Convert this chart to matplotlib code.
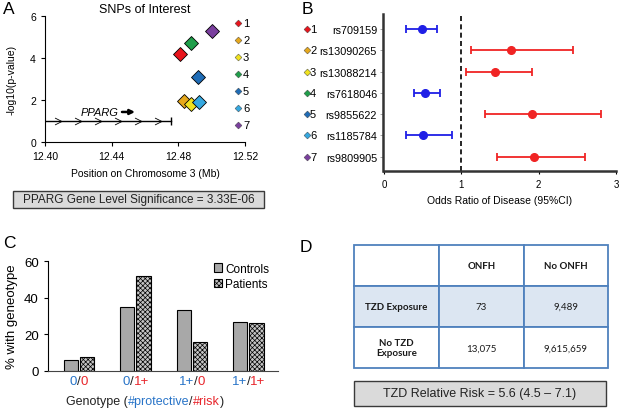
import matplotlib
matplotlib.use('Agg')
import matplotlib.pyplot as plt
from matplotlib.path import Path
from matplotlib.patches import Rectangle
from matplotlib.offsetbox import TextArea, HPacker, AnnotationBbox

plt.rcParams['font.family'] = ['Liberation Sans', 'DejaVu Sans']

W, H = 620, 410

# panel A: SNPs of interest
snp_num = ['1', '2', '3', '4', '5', '6', '7']
snp_colors = ['#e8141c', '#e6a81c', '#f0e21e', '#1f9e4a', '#1f6cb6', '#35a8e0', '#7a3f9e']
snp_pos = [12.4808, 12.4832, 12.4874, 12.4874, 12.4916, 12.4926, 12.5004]
snp_logp = [4.19, 1.94, 1.81, 4.70, 3.11, 1.89, 5.30]
gene_start, gene_end, gene_y = 12.40, 12.4758, 1.02
chevrons = [12.408, 12.420, 12.432, 12.444, 12.456, 12.468]

# panel B: odds ratios
snp_ids = ['rs709159', 'rs13090265', 'rs13088214', 'rs7618046', 'rs9855622', 'rs1185784', 'rs9809905']
or_val = [0.49, 1.64, 1.44, 0.53, 1.92, 0.50, 1.94]
ci_low = [0.29, 1.12, 1.06, 0.39, 1.31, 0.28, 1.46]
ci_high = [0.69, 2.44, 1.91, 0.72, 2.81, 0.88, 2.60]

# panel C: genotype frequencies
geno_prot = ['0', '0', '1+', '1+']
geno_risk = ['0', '1+', '0', '1+']
controls = [5.9, 35.1, 33.3, 26.5]
patients = [7.3, 51.8, 15.9, 26.0]

# panel D: TZD table
table_cols = ['', 'ONFH', 'No ONFH']
table_rows = [['TZD Exposure', '73', '9,489'],
              ['No TZD\nExposure', '13,075', '9,615,659']]

BLUE_T = '#2874c8'
RED_T = '#e8262c'


def box(l, t, r, b):
    return [l / W, 1 - b / H, (r - l) / W, (b - t) / H]


def gray_box(l, t, r, b, text, size):
    fig.patches.append(Rectangle((l / W, 1 - b / H), (r - l) / W, (b - t) / H,
                                 transform=fig.transFigure, facecolor='#dadada',
                                 edgecolor='#3a3a3a', lw=1.0))
    fig.text((l + r) / 2 / W, 1 - (t + b) / 2 / H, text, ha='center', va='center',
             fontsize=size, color='#222222')


fig = plt.figure(figsize=(6.2, 4.1), dpi=100)

# ---------- A ----------
ax = fig.add_axes(box(45, 17, 245, 143))
ax.set_xlim(12.40, 12.52)
ax.set_ylim(0, 6)
for s in ['top', 'right']:
    ax.spines[s].set_visible(False)
ax.set_xticks([12.40, 12.44, 12.48, 12.52])
ax.set_xticklabels(['12.40', '12.44', '12.48', '12.52'])
ax.set_yticks([0, 2, 4, 6])
ax.tick_params(labelsize=7.5, length=3)
ax.set_title('SNPs of Interest', fontsize=9, pad=3)
ax.set_ylabel('-log10(p-value)', fontsize=7.5)
ax.yaxis.set_label_coords(-0.14, 0.5)
ax.set_xlabel('Position on Chromosome 3 (Mb)', fontsize=7.5)
ax.xaxis.set_label_coords(0.5, -0.21)

ax.plot([gene_start, gene_end], [gene_y, gene_y], color='black', lw=1)
ax.plot([gene_end], [gene_y], marker='|', color='black', ms=6, mew=1)
chev = Path([(-0.5, 0.5), (0.5, 0.0), (-0.5, -0.5)], [Path.MOVETO, Path.LINETO, Path.LINETO])
ax.plot(chevrons, [gene_y] * len(chevrons), ls='none', marker=chev, ms=5,
        mfc='none', mec='black', mew=0.6)
ax.text(12.4325, 1.43, 'PPARG', style='italic', fontsize=8, ha='center', va='center')
ax.annotate('', xy=(12.4540, 1.43), xytext=(12.4462, 1.43),
            arrowprops=dict(arrowstyle='-|>', lw=1.8, color='black', mutation_scale=7,
                            shrinkA=0, shrinkB=0))
for x, y, c in zip(snp_pos, snp_logp, snp_colors):
    ax.plot([x], [y], marker='D', ms=7, mfc=c, mec='black', mew=0.6, clip_on=False)
for i, (n, c) in enumerate(zip(snp_num, snp_colors)):
    yy = 1 - (24 + i * 17 - 17) / 126
    ax.plot([(238 - 45) / 200], [yy], marker='D', ms=3.5, mfc=c, mec='#333333', mew=0.3,
            transform=ax.transAxes, clip_on=False)
    ax.text((243 - 45) / 200, yy, n, transform=ax.transAxes, fontsize=8, va='center')

gray_box(13, 192, 264, 209, 'PPARG Gene Level Significance = 3.33E-06', 8.5)

# ---------- B ----------
axb = fig.add_axes(box(384, 15, 616, 172))
axb.set_xlim(0, 3)
ypos = list(range(len(snp_ids)))
axb.set_ylim(6.68, -0.71)
for s in ['top', 'right']:
    axb.spines[s].set_visible(False)
for s in ['left', 'bottom']:
    axb.spines[s].set_linewidth(1.8)
    axb.spines[s].set_color('#333333')
axb.spines['left'].set_position(('outward', 1))
axb.set_xticks([0, 1, 2, 3])
axb.set_yticks(ypos)
axb.set_yticklabels(snp_ids)
axb.tick_params(axis='y', length=2, width=0.6, labelsize=7.8, pad=2, color='#999999')
axb.tick_params(axis='x', length=2, labelsize=7)
axb.axvline(1, color='black', ls='--', lw=1.2, dashes=(3, 2))
for y, o, lo, hi in zip(ypos, or_val, ci_low, ci_high):
    col = '#1f1fe6' if o < 1 else '#f02424'
    axb.errorbar([o], [y], xerr=[[o - lo], [hi - o]], fmt='o', color=col, ms=5.5,
                 capsize=3, elinewidth=1.3, capthick=1.3)
for y, n, c in zip(ypos, snp_num, snp_colors):
    axb.plot([(307 - 384) / 232], [y], marker='D', ms=3.5, mfc=c, mec='#333333', mew=0.3,
             transform=axb.get_yaxis_transform(), clip_on=False)
    axb.text((310 - 384) / 232, y, n, transform=axb.get_yaxis_transform(),
             fontsize=8, va='center')
axb.set_xlabel('Odds Ratio of Disease (95%CI)', fontsize=7.5)
axb.xaxis.set_label_coords(0.5, -0.15)

# ---------- C ----------
axc = fig.add_axes(box(47.7, 262.3, 278, 371.7))
xs = list(range(len(controls)))
axc.bar([x - 0.145 for x in xs], controls, width=0.25, color='#a8a8a8',
        edgecolor='black', lw=0.8, label='Controls')
plt.rcParams['hatch.color'] = '#8c8c8c'
plt.rcParams['hatch.linewidth'] = 0.5
axc.bar([x + 0.14 for x in xs], patients, width=0.25, color='#c4c4c4',
        edgecolor='black', lw=0.8, hatch='xxxxxxx', label='Patients')
axc.set_xlim(-0.555, 3.52)
axc.set_ylim(0, 60)
axc.set_yticks([0, 20, 40, 60])
axc.set_xticks([])
for s in ['top', 'right']:
    axc.spines[s].set_visible(False)
axc.spines['bottom'].set_color('#444444')
axc.tick_params(labelsize=9.5, length=3)
axc.set_ylabel('% with geneotype', fontsize=9.5)
axc.yaxis.set_label_coords(-0.13, 0.5)
axc.legend(frameon=False, loc='upper left', bbox_to_anchor=(0.70, 1.03), fontsize=8.5,
           handlelength=0.7, handleheight=0.7, handletextpad=0.3, labelspacing=0.3,
           borderaxespad=0)
for x, p, r in zip(xs, geno_prot, geno_risk):
    hp = HPacker(children=[TextArea(p, textprops=dict(color=BLUE_T, fontsize=9.5)),
                           TextArea('/', textprops=dict(color='#222222', fontsize=9.5)),
                           TextArea(r, textprops=dict(color=RED_T, fontsize=9.5))],
                 sep=0, pad=0)
    axc.add_artist(AnnotationBbox(hp, (x, -0.04), xycoords=('data', 'axes fraction'),
                                  box_alignment=(0.5, 1), frameon=False, pad=0))
lab = HPacker(children=[TextArea('Genotype (', textprops=dict(color='#222222', fontsize=9)),
                        TextArea('#protective', textprops=dict(color=BLUE_T, fontsize=9)),
                        TextArea('/', textprops=dict(color='#222222', fontsize=9)),
                        TextArea('#risk', textprops=dict(color=RED_T, fontsize=9)),
                        TextArea(')', textprops=dict(color='#222222', fontsize=9))],
              sep=0, pad=0)
fig.add_artist(AnnotationBbox(lab, (145 / W, 1 - 402 / H), xycoords='figure fraction',
                              box_alignment=(0.5, 0.5), frameon=False, pad=0))

# ---------- D ----------
axd = fig.add_axes(box(354.3, 246, 608.3, 369.3))
axd.axis('off')
cells = [table_cols] + table_rows
colours = [['white'] * 3, ['#dce6f2'] * 3, ['white'] * 3]
tbl = axd.table(cellText=cells, cellColours=colours, bbox=[0, 0, 1, 1], cellLoc='center')
tbl.auto_set_font_size(False)
for (r, c), cell in tbl.get_celld().items():
    cell.set_edgecolor('#4f81bd')
    cell.set_linewidth(1.3)
    bold = r == 0 or c == 0
    cell.get_text().set_fontfamily(['Lato', 'DejaVu Sans'])
    cell.get_text().set_fontsize(7)
    cell.get_text().set_fontweight('bold' if bold else 'normal')
    cell.get_text().set_color('#1a1a1a')

gray_box(354, 382, 606, 407, 'TZD Relative Risk = 5.6 (4.5 \u2013 7.1)', 9)

for lbl, x, y in [('A', 3, 2), ('B', 302, 2), ('C', 3, 236), ('D', 300, 240)]:
    fig.text(x / W, 1 - y / H, lbl, fontsize=12.5, va='top', ha='left')

fig.savefig('out.png', dpi=100)
